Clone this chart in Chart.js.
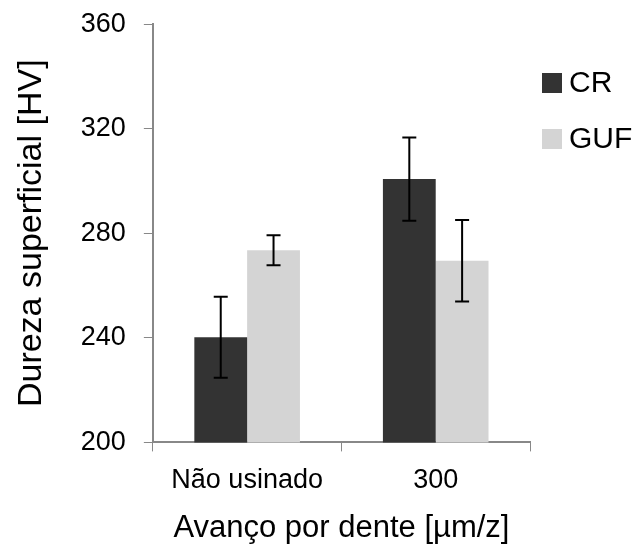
<!DOCTYPE html>
<html>
<head>
<meta charset="utf-8">
<script src="https://cdn.jsdelivr.net/npm/chart.js@4"></script>
<style>
  html, body { margin: 0; padding: 0; background: #fff; }
  #wrap { width: 639px; height: 547px; }
</style>
</head>
<body>
<div id="wrap"><canvas id="chart"></canvas></div>
<script>
// values
const categories = ['Não usinado', '300'];
const seriesNames = ['CR', 'GUF'];
const crValues  = [240.2, 300.7];
const crErrors  = [15.5, 15.9];
const gufValues = [273.5, 269.5];
const gufErrors = [5.7, 15.6];
const yTicks = [200, 240, 280, 320, 360];

const FONT = '"Liberation Sans", Arial, sans-serif';
const AXIS_GREY = '#888888';

// error bars drawn on top of the bars
const errorBars = {
    id: 'errorBars',
    afterDatasetsDraw(chart){
        const ctx = chart.ctx;
        const y = chart.scales.y;
        ctx.save();
        ctx.strokeStyle = '#000';
        ctx.lineWidth = 2;
        chart.data.datasets.forEach((ds, i) => {
            const meta = chart.getDatasetMeta(i);
            meta.data.forEach((bar, j) => {
                const v = ds.data[j], e = ds.errors[j];
                const top = y.getPixelForValue(v + e);
                const bot = y.getPixelForValue(v - e);
                ctx.beginPath();
                ctx.moveTo(bar.x, top); ctx.lineTo(bar.x, bot);
                ctx.moveTo(bar.x - 7, top); ctx.lineTo(bar.x + 7, top);
                ctx.moveTo(bar.x - 7, bot); ctx.lineTo(bar.x + 7, bot);
                ctx.stroke();
            });
        });
        ctx.restore();
    }
};

// legend at the right, square + name, like the Excel one
const sideLegend = {
    id: 'sideLegend',
    afterDraw(chart){
        const ctx = chart.ctx;
        const x0 = chart.chartArea.right + 12;
        ctx.save();
        ctx.font = '30px ' + FONT;
        ctx.textBaseline = 'middle';
        chart.data.datasets.forEach((ds, i) => {
            const cy = 83 + i * 56;
            ctx.fillStyle = ds.backgroundColor;
            ctx.fillRect(x0, cy - 10, 20, 20);
            ctx.fillStyle = '#000';
            ctx.fillText(ds.label, x0 + 27, cy + 1);
        });
        ctx.restore();
    }
};

const ctx = document.getElementById('chart').getContext('2d');
const chart = new Chart(ctx, {
    type: 'bar',
    data: {
        labels: categories,
        datasets: [{
            label: seriesNames[0],
            data: crValues,
            errors: crErrors,
            backgroundColor: '#333333',
            categoryPercentage: 0.56,
            barPercentage: 1.0
        }, {
            label: seriesNames[1],
            data: gufValues,
            errors: gufErrors,
            backgroundColor: '#d4d4d4',
            categoryPercentage: 0.56,
            barPercentage: 1.0
        }]
    },
    options: {
        responsive: true,
        maintainAspectRatio: false,
        animation: false,
        layout: { padding: { top: 1, left: 4, right: 109, bottom: 0 } },
        scales: {
            x: {
                grid: { display: true, drawOnChartArea: false, drawTicks: true, tickLength: 9, color: AXIS_GREY, offset: true },
                border: { color: AXIS_GREY, width: 2 },
                ticks: { color: '#000', font: { family: FONT, size: 27 }, padding: 13 },
                title: { display: true, text: 'Avanço por dente [µm/z]', color: '#000',
                         font: { family: FONT, size: 31 }, padding: { top: 0, bottom: 0 } }
            },
            y: {
                min: 200,
                max: 360,
                afterBuildTicks: axis => { axis.ticks = yTicks.map(v => ({ value: v })); },
                grid: { display: true, drawOnChartArea: false, drawTicks: true, tickLength: 9, color: AXIS_GREY },
                border: { color: AXIS_GREY, width: 2 },
                ticks: { color: '#000', font: { family: FONT, size: 27, lineHeight: 0.45 }, padding: 18 },
                title: { display: true, text: 'Dureza superficial [HV]', color: '#000',
                         font: { family: FONT, size: 34 }, padding: { top: 7, bottom: 11 } }
            }
        },
        plugins: {
            legend: { display: false },
            tooltip: { enabled: false }
        }
    },
    plugins: [errorBars, sideLegend]
});
</script>
</body>
</html>
